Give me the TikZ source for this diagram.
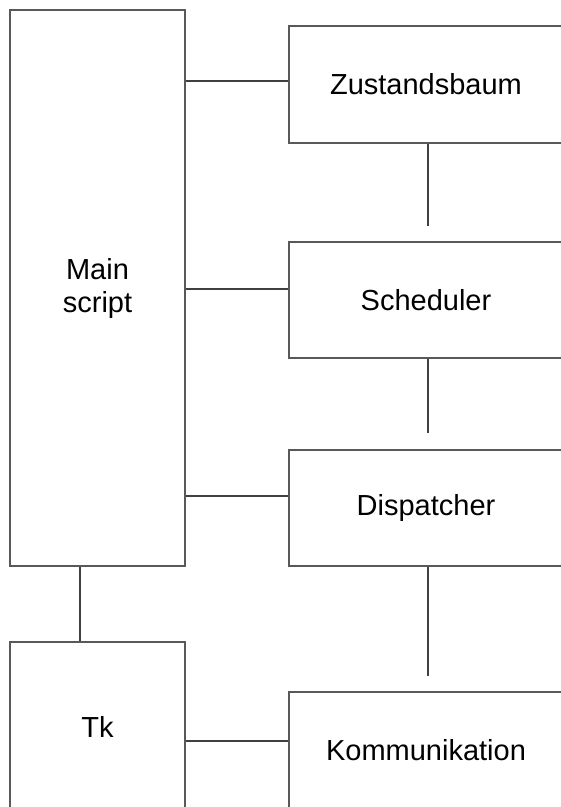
\documentclass[tikz,border=0pt]{standalone}
\usepackage{fontspec}
\setmainfont{Liberation Sans}
\usepackage{tikz}
\usetikzlibrary{calc}

\tikzset{
  kasten/.style={draw=black!65,line width=1.8pt,fill=white,align=center,
    font=\fontsize{29}{33}\selectfont,inner sep=0pt},
  linie/.style={draw=black!75,line width=1.4pt}
}

\begin{document}
\begin{tikzpicture}[x=1pt,y=-1pt]
			          %\draw[help lines] (0,0) grid (561,807);
			          \useasboundingbox (0,0) rectangle (561,807);
			          \clip (0,0) rectangle (561,807);

			          \node[kasten,minimum width=175pt,minimum height=556pt] (main) at (97.5,288) {Main\\script};
			          \node[kasten,minimum width=175pt,minimum height=170pt] (tk) at (97.5,727) {Tk};
			          \node[kasten,minimum width=274pt,minimum height=117pt] (zust) at (426,84.5) {Zustandsbaum};
			          \node[kasten,minimum width=274pt,minimum height=116pt] (sched) at (426,300) {Scheduler};
			          \node[kasten,minimum width=274pt,minimum height=116pt] (disp) at (426,508) {Dispatcher};
			          \node[kasten,minimum width=274pt,minimum height=120pt] (komm) at (426,752) {\raisebox{4pt}{Kommunikation}};

			          %links
			          \draw[linie] ([yshift=3.5pt]zust.west) -- ([yshift=3.5pt]zust.west -| main.east);
			          \draw[linie] ([yshift=11pt]sched.west) -- ([yshift=11pt]sched.west -| main.east);
			          \draw[linie] ([yshift=12pt]disp.west) -- ([yshift=12pt]disp.west -| main.east);
			          \draw[linie] ([xshift=-17.5pt]main.south) -- ([xshift=-17.5pt]tk.north);
			          \draw[linie] ([yshift=-14pt]tk.east) -- ([yshift=-14pt]tk.east -| komm.west);

			          %rechts
			          \draw[linie,shorten >=15pt] ([xshift=2pt]zust.south) -- ([xshift=2pt]sched.north);
			          \draw[linie,shorten >=16pt] ([xshift=2pt]sched.south) -- ([xshift=2pt]disp.north);
			          \draw[linie,shorten >=15pt] ([xshift=2pt]disp.south) -- ([xshift=2pt]komm.north);
				  \end{tikzpicture}
\end{document}
